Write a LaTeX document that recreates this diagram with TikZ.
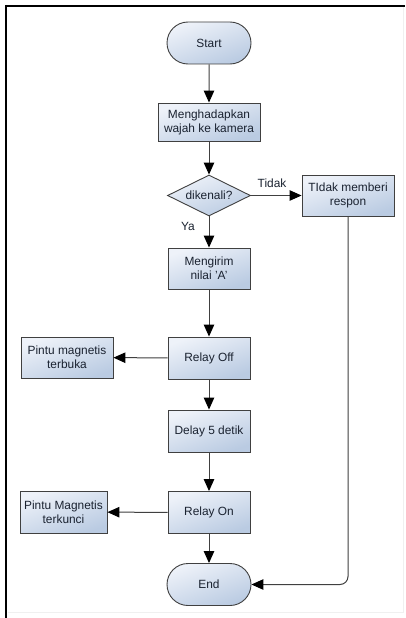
\documentclass[tikz,border=0pt]{standalone}
\usepackage{fontspec}
\setmainfont{Liberation Sans}
\usetikzlibrary{shapes.geometric,shapes.misc,arrows.meta}
\definecolor{boxtop}{HTML}{EEF2F9}
\definecolor{boxbot}{HTML}{BACBE2}
\definecolor{edge}{HTML}{404040}
\definecolor{ink}{HTML}{1A2230}
\begin{document}
\begin{tikzpicture}[x=1pt,y=-1pt,
  font=\fontsize{11.9}{14}\selectfont,
  base/.style={draw=edge,line width=0.9pt,top color=boxtop,bottom color=boxbot,
    shading angle=20,text=ink,align=center,inner sep=0pt},
  procbox/.style={base,rectangle,minimum width=82pt,minimum height=41pt},
  termbox/.style={base,rounded rectangle,minimum width=84pt,minimum height=42pt},
  decbox/.style={base,diamond,aspect=2,minimum width=83pt,minimum height=41pt},
  flow/.style={draw=edge,line width=1pt,-{Triangle[length=12pt,width=10.5pt,color=black]}},
  lbl/.style={text=ink,inner sep=0pt}]
\useasboundingbox (0,0) rectangle (405,618);
\fill[white] (0,0) rectangle (405,618);
% page frame
\draw[black!6,line width=0.8pt] (403,7) -- (403,612) -- (8,612);
\draw[black,line width=1.5pt] (5,6) -- (405,6);
\draw[black,line width=1.5pt] (6,5) -- (6,618);

% nodes
\node[termbox] (start) at (209,43) {Start};
\node[procbox,minimum width=102pt,minimum height=38pt] (face) at (209,122) {Menghadapkan\\wajah ke kamera};
\node[decbox] (dec) at (209,195.5) {dikenali?};
\node[procbox,minimum width=92pt] (noresp) at (348,195.5) {TIdak memberi\\respon};
\node[procbox] (send) at (209,268.5) {Mengirim\\nilai 'A'};
\node[procbox,minimum height=42pt] (off) at (209,358) {Relay Off};
\node[procbox,minimum width=92pt] (open) at (67,357.5) {Pintu magnetis\\terbuka};
\node[procbox,minimum height=42pt] (delay) at (209,431) {Delay 5 detik};
\node[procbox,minimum height=42pt] (on) at (209,512.5) {Relay On};
\node[procbox,minimum width=87pt,minimum height=42pt] (locked) at (63.5,512) {Pintu Magnetis\\terkunci};
\node[termbox] (end) at (209,584.5) {End};

% labels on the decision branches
\node[lbl] (tidak) at (272,183) {Tidak};
\node[lbl] (ya) at (188,226) {Ya};

% connectors
\draw[flow] (start) -- (face);
\draw[flow] (face) -- (dec);
\draw[flow] (dec) -- (noresp);
\draw[flow] (dec) -- (send);
\draw[flow] (send) -- (off);
\draw[flow] (off) -- (open);
\draw[flow] (off) -- (delay);
\draw[flow] (delay) -- (on);
\draw[flow] (on) -- (locked);
\draw[flow] (on) -- (end);
\draw[flow,rounded corners=8pt] (noresp.south) |- (end.east);
\end{tikzpicture}
\end{document}
